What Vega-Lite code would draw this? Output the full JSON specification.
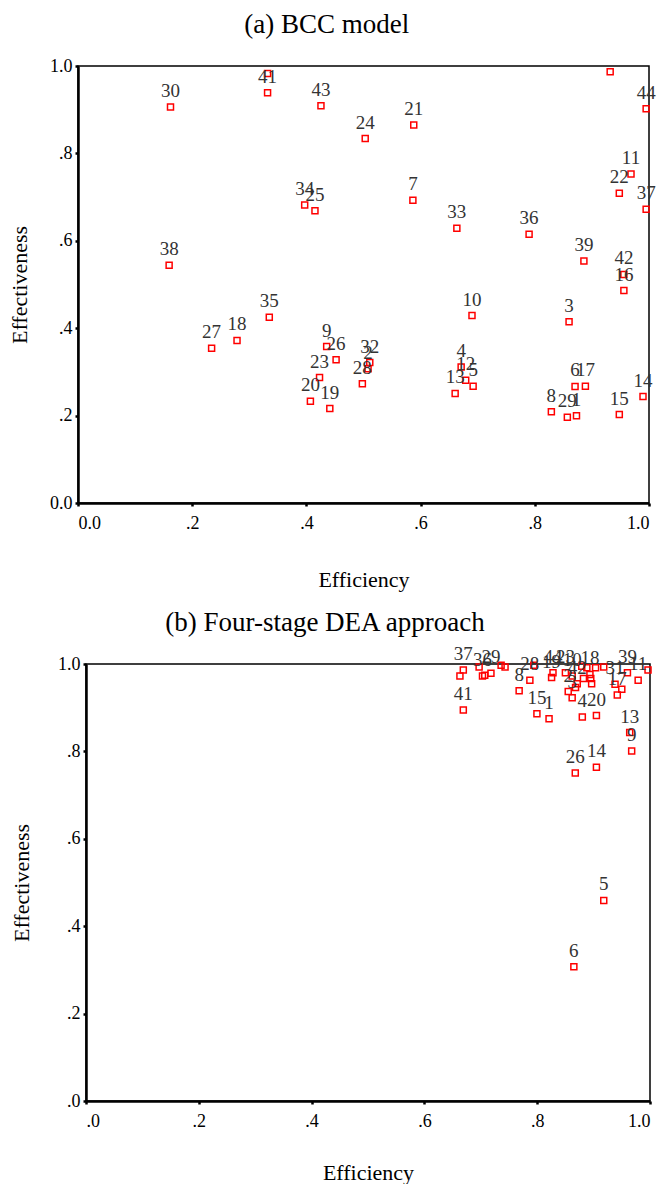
{
  "$schema": "https://vega.github.io/schema/vega-lite/v6.json",
  "background": "white",
  "padding": {"left": 0, "top": 10, "right": 2, "bottom": 0},
  "spacing": 17,
  "config": {
    "view": {"stroke": "black", "strokeWidth": 1.5},
    "axis": {"grid": false, "domainColor": "black", "domainWidth": 2.5, "tickColor": "black", "tickSize": 3, "tickWidth": 2.5, "labelFont": "Liberation Serif", "labelFontSize": 18, "labelColor": "black", "titleFont": "Liberation Serif", "titleFontSize": 22, "titleFontWeight": "normal", "titleColor": "black"},
    "title": {"font": "Liberation Serif", "fontSize": 27, "fontWeight": "normal", "color": "black"}
  },
  "datasets": {
    "bcc": [
      {"id": 1, "efficiency": 0.873, "effectiveness": 0.1995},
      {"id": 2, "efficiency": 0.508, "effectiveness": 0.307},
      {"id": 3, "efficiency": 0.860, "effectiveness": 0.415},
      {"id": 4, "efficiency": 0.671, "effectiveness": 0.311},
      {"id": 5, "efficiency": 0.692, "effectiveness": 0.267},
      {"id": 6, "efficiency": 0.8705, "effectiveness": 0.2666},
      {"id": 7, "efficiency": 0.5865, "effectiveness": 0.693},
      {"id": 8, "efficiency": 0.829, "effectiveness": 0.209},
      {"id": 9, "efficiency": 0.4355, "effectiveness": 0.358},
      {"id": 10, "efficiency": 0.690, "effectiveness": 0.429},
      {"id": 11, "efficiency": 0.9685, "effectiveness": 0.753},
      {"id": 12, "efficiency": 0.679, "effectiveness": 0.281},
      {"id": 13, "efficiency": 0.6605, "effectiveness": 0.2506},
      {"id": 14, "efficiency": 0.9895, "effectiveness": 0.2437},
      {"id": 15, "efficiency": 0.948, "effectiveness": 0.2025},
      {"id": 16, "efficiency": 0.956, "effectiveness": 0.486},
      {"id": 17, "efficiency": 0.8886, "effectiveness": 0.267},
      {"id": 18, "efficiency": 0.2785, "effectiveness": 0.372},
      {"id": 19, "efficiency": 0.441, "effectiveness": 0.216},
      {"id": 20, "efficiency": 0.407, "effectiveness": 0.233},
      {"id": 21, "efficiency": 0.588, "effectiveness": 0.865},
      {"id": 22, "efficiency": 0.948, "effectiveness": 0.709},
      {"id": 23, "efficiency": 0.423, "effectiveness": 0.287},
      {"id": 24, "efficiency": 0.503, "effectiveness": 0.834},
      {"id": 25, "efficiency": 0.415, "effectiveness": 0.669},
      {"id": 26, "efficiency": 0.452, "effectiveness": 0.328},
      {"id": 27, "efficiency": 0.234, "effectiveness": 0.354},
      {"id": 28, "efficiency": 0.498, "effectiveness": 0.273},
      {"id": 29, "efficiency": 0.857, "effectiveness": 0.196},
      {"id": 30, "efficiency": 0.162, "effectiveness": 0.906},
      {"id": 31, "efficiency": 0.332, "effectiveness": 0.983},
      {"id": 32, "efficiency": 0.511, "effectiveness": 0.3215},
      {"id": 33, "efficiency": 0.6635, "effectiveness": 0.629},
      {"id": 34, "efficiency": 0.397, "effectiveness": 0.682},
      {"id": 35, "efficiency": 0.335, "effectiveness": 0.425},
      {"id": 36, "efficiency": 0.790, "effectiveness": 0.615},
      {"id": 37, "efficiency": 0.995, "effectiveness": 0.672},
      {"id": 38, "efficiency": 0.1596, "effectiveness": 0.544},
      {"id": 39, "efficiency": 0.886, "effectiveness": 0.554},
      {"id": 40, "efficiency": 0.932, "effectiveness": 0.987},
      {"id": 41, "efficiency": 0.332, "effectiveness": 0.939},
      {"id": 42, "efficiency": 0.956, "effectiveness": 0.523},
      {"id": 43, "efficiency": 0.4255, "effectiveness": 0.909},
      {"id": 44, "efficiency": 0.995, "effectiveness": 0.902}
    ],
    "fourstage": [
      {"id": 1, "efficiency": 0.821, "effectiveness": 0.875},
      {"id": 2, "efficiency": 0.855, "effectiveness": 0.937},
      {"id": 3, "efficiency": 0.862, "effectiveness": 0.923},
      {"id": 4, "efficiency": 0.880, "effectiveness": 0.879},
      {"id": 5, "efficiency": 0.918, "effectiveness": 0.459},
      {"id": 6, "efficiency": 0.865, "effectiveness": 0.307},
      {"id": 7, "efficiency": 0.707, "effectiveness": 0.974},
      {"id": 8, "efficiency": 0.768, "effectiveness": 0.939},
      {"id": 9, "efficiency": 0.9675, "effectiveness": 0.801},
      {"id": 10, "efficiency": 0.862, "effectiveness": 0.9725},
      {"id": 11, "efficiency": 0.979, "effectiveness": 0.963},
      {"id": 12, "efficiency": 0.895, "effectiveness": 0.967},
      {"id": 13, "efficiency": 0.964, "effectiveness": 0.843},
      {"id": 14, "efficiency": 0.905, "effectiveness": 0.764},
      {"id": 15, "efficiency": 0.7995, "effectiveness": 0.886},
      {"id": 16, "efficiency": 0.882, "effectiveness": 0.967},
      {"id": 17, "efficiency": 0.942, "effectiveness": 0.929},
      {"id": 18, "efficiency": 0.8935, "effectiveness": 0.976},
      {"id": 19, "efficiency": 0.8255, "effectiveness": 0.969},
      {"id": 20, "efficiency": 0.905, "effectiveness": 0.882},
      {"id": 21, "efficiency": 0.868, "effectiveness": 0.946},
      {"id": 22, "efficiency": 0.918, "effectiveness": 0.993},
      {"id": 23, "efficiency": 0.850, "effectiveness": 0.980},
      {"id": 24, "efficiency": 0.879, "effectiveness": 0.995},
      {"id": 25, "efficiency": 0.950, "effectiveness": 0.942},
      {"id": 26, "efficiency": 0.8675, "effectiveness": 0.7506},
      {"id": 27, "efficiency": 0.888, "effectiveness": 0.9915},
      {"id": 28, "efficiency": 0.787, "effectiveness": 0.963},
      {"id": 29, "efficiency": 0.718, "effectiveness": 0.979},
      {"id": 30, "efficiency": 0.743, "effectiveness": 0.993},
      {"id": 31, "efficiency": 0.938, "effectiveness": 0.9535},
      {"id": 32, "efficiency": 0.697, "effectiveness": 0.993},
      {"id": 33, "efficiency": 0.8965, "effectiveness": 0.955},
      {"id": 34, "efficiency": 0.794, "effectiveness": 0.997},
      {"id": 35, "efficiency": 0.9035, "effectiveness": 0.9915},
      {"id": 36, "efficiency": 0.703, "effectiveness": 0.9725},
      {"id": 37, "efficiency": 0.669, "effectiveness": 0.986},
      {"id": 38, "efficiency": 0.663, "effectiveness": 0.9725},
      {"id": 39, "efficiency": 0.960, "effectiveness": 0.980},
      {"id": 40, "efficiency": 0.736, "effectiveness": 0.997},
      {"id": 41, "efficiency": 0.669, "effectiveness": 0.895},
      {"id": 42, "efficiency": 0.871, "effectiveness": 0.955},
      {"id": 43, "efficiency": 0.9965, "effectiveness": 0.986},
      {"id": 44, "efficiency": 0.828, "effectiveness": 0.980}
    ],
    "spacer": [{"s": 0}]
  },
  "vconcat": [
    {
      "spacing": 0,
      "hconcat": [
        {"width": 1, "height": 1, "data": {"name": "spacer"}, "mark": {"type": "point", "opacity": 0}, "view": {"stroke": null}},
        {
          "title": {"text": "(a) BCC model", "frame": "bounds", "anchor": "middle", "offset": 18, "dx": -5, "font": "Liberation Serif"},
          "width": 571,
          "height": 437,
          "data": {"name": "bcc"},
          "encoding": {
            "x": {"field": "efficiency", "type": "quantitative", "title": "Efficiency", "scale": {"domain": [0, 1], "nice": false}, "axis": {"values": [0, 0.2, 0.4, 0.6, 0.8, 1], "labelFont": "Liberation Serif", "titleFont": "Liberation Serif", "labelPadding": 8, "titlePadding": 37, "labelExpr": "datum.value == 0 ? '0.0' : datum.value == 1 ? '1.0' : replace(format(datum.value, '.1f'), '0.', '.')"}},
            "y": {"field": "effectiveness", "type": "quantitative", "title": "Effectiveness", "scale": {"domain": [0, 1], "nice": false}, "axis": {"values": [0, 0.2, 0.4, 0.6, 0.8, 1], "labelFont": "Liberation Serif", "titleFont": "Liberation Serif", "labelPadding": 3, "titlePadding": 18.5, "labelExpr": "datum.value == 0 ? '0.0' : datum.value == 1 ? '1.0' : replace(format(datum.value, '.1f'), '0.', '.')"}}
          },
          "layer": [
            {"mark": {"type": "point", "shape": "square", "filled": false, "color": "#ff0000", "size": 36, "strokeWidth": 1.5, "opacity": 1}},
            {"transform": [{"filter": "indexof([31, 40], datum.id) < 0"}], "mark": {"type": "text", "font": "Liberation Serif", "fontSize": 19, "color": "#333333", "baseline": "middle", "align": "center", "dy": -16}, "encoding": {"text": {"field": "id", "type": "nominal"}}}
          ]
        }
      ]
    },
    {
      "spacing": 0,
      "hconcat": [
        {"width": 5, "height": 1, "data": {"name": "spacer"}, "mark": {"type": "point", "opacity": 0}, "view": {"stroke": null}},
        {
          "title": {"text": "(b) Four-stage DEA approach", "frame": "bounds", "anchor": "middle", "offset": 8, "dx": -7, "font": "Liberation Serif"},
          "width": 564,
          "height": 437,
          "data": {"name": "fourstage"},
          "encoding": {
            "x": {"field": "efficiency", "type": "quantitative", "title": "Efficiency", "scale": {"domain": [0, 1], "nice": false}, "axis": {"values": [0, 0.2, 0.4, 0.6, 0.8, 1], "labelFont": "Liberation Serif", "titleFont": "Liberation Serif", "labelPadding": 8, "titlePadding": 32, "labelExpr": "datum.value == 1 ? '1.0' : replace(format(datum.value, '.1f'), '0.', '.')"}},
            "y": {"field": "effectiveness", "type": "quantitative", "title": "Effectiveness", "scale": {"domain": [0, 1], "nice": false}, "axis": {"values": [0, 0.2, 0.4, 0.6, 0.8, 1], "labelFont": "Liberation Serif", "titleFont": "Liberation Serif", "labelPadding": 3, "titlePadding": 24.5, "labelExpr": "datum.value == 1 ? '1.0' : replace(format(datum.value, '.1f'), '0.', '.')"}}
          },
          "layer": [
            {"mark": {"type": "point", "shape": "square", "filled": false, "color": "#ff0000", "size": 36, "strokeWidth": 1.5, "opacity": 1}},
            {"transform": [{"filter": "indexof([7, 12, 16, 21, 22, 24, 25, 27, 30, 32, 33, 34, 35, 38, 40, 43], datum.id) < 0"}], "mark": {"type": "text", "font": "Liberation Serif", "fontSize": 19, "color": "#333333", "baseline": "middle", "align": "center", "dy": -16}, "encoding": {"text": {"field": "id", "type": "nominal"}}}
          ]
        }
      ]
    }
  ]
}
